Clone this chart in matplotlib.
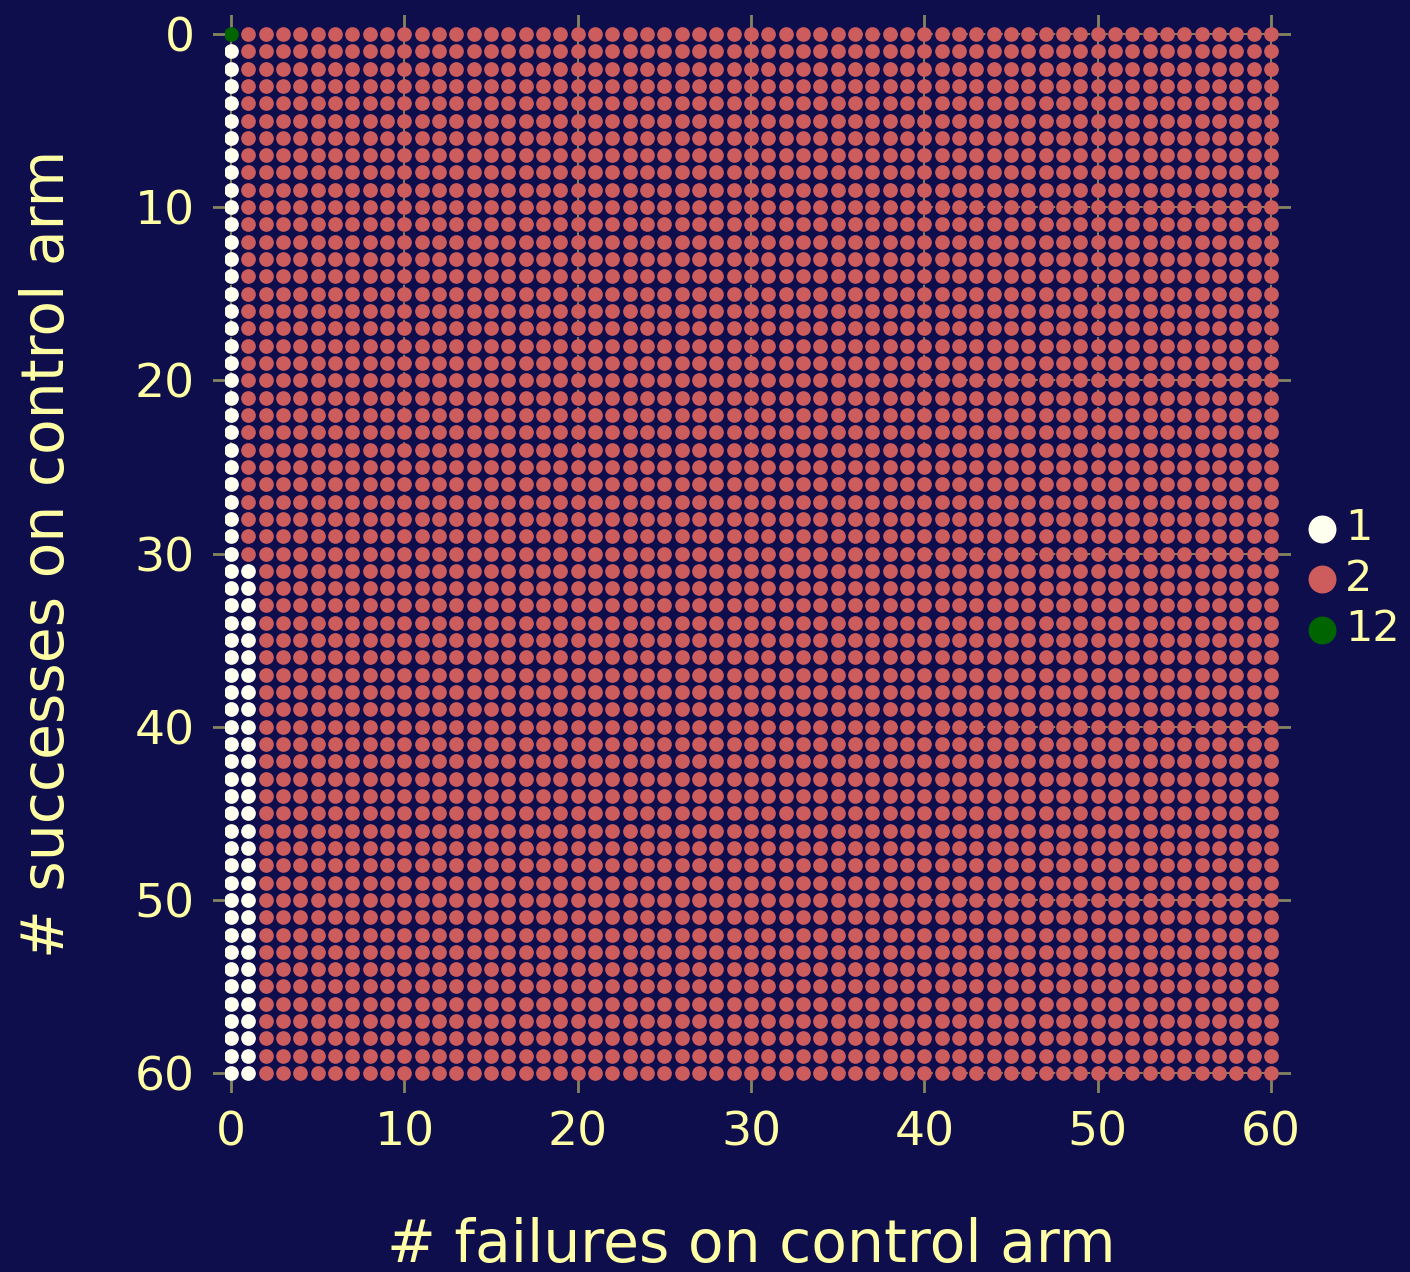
import numpy as np
import matplotlib
matplotlib.use("Agg")
import matplotlib.pyplot as plt
import matplotlib.transforms as mtransforms

# grid of control-arm outcomes and the level assigned to each cell
failures = np.arange(0, 61)
successes = np.arange(0, 61)
levels = [1, 2, 12]
level_colors = {1: "#FFFFF0", 2: "#CD5C5C", 12: "#006400"}
ticks = [0, 10, 20, 30, 40, 50, 60]

# level 1 cells: (failure column, first success row); runs go to the last row
level1_runs = [(0, 1), (1, 31)]
level12_cells = [(0, 0)]

grid = np.full((len(successes), len(failures)), 2)
for col, start in level1_runs:
    grid[start:, col] = 1
for col, row in level12_cells:
    grid[row, col] = 12

bg = "#0F0E4D"
fg = "#FFFFA5"
gridc = "#84845F"

fig = plt.figure(figsize=(14.1, 12.72), dpi=100, facecolor=bg)
ax = fig.add_axes([225 / 1410, 1 - 1080 / 1272, 1053 / 1410, 1053 / 1272])
ax.set_facecolor(bg)

X, Y = np.meshgrid(failures, successes)
for lv in levels:
    mask = grid == lv
    ax.scatter(X[mask], Y[mask], s=112, color=level_colors[lv], linewidths=0,
               label=str(lv), zorder=3)

ax.set_xlim(-0.35, 60.4)
ax.set_ylim(60.4, -0.4)
ax.set_xticks(ticks)
ax.set_yticks(ticks)
for s in ax.spines.values():
    s.set_visible(False)

ax.grid(True, color=gridc, linestyle=(0, (4, 5)), linewidth=1.4, zorder=0)
ax.tick_params(length=0, pad=22, labelsize=34, labelcolor=fg)

# dashed outward tick marks on all four sides
tl = 0.018
tx = mtransforms.blended_transform_factory(ax.transData, ax.transAxes)
ty = mtransforms.blended_transform_factory(ax.transAxes, ax.transData)
for v in ticks:
    kw = dict(color=gridc, linewidth=2, linestyle=(0, (4.5, 4.5)), clip_on=False, zorder=1)
    ax.plot([v, v], [0, -tl], transform=tx, **kw)
    ax.plot([v, v], [1, 1 + tl], transform=tx, **kw)
    ax.plot([0, -tl], [v, v], transform=ty, **kw)
    ax.plot([1, 1 + tl], [v, v], transform=ty, **kw)

ax.set_xlabel("# failures on control arm", fontsize=42, color=fg, labelpad=44)
ax.set_ylabel("# successes on control arm", fontsize=42, color=fg, labelpad=42)

leg = ax.legend(loc="center left", bbox_to_anchor=(1.021, 0.476), frameon=False,
                fontsize=31, markerscale=1.9, handlelength=1.0, handletextpad=0.05,
                labelspacing=0.2, borderaxespad=0, borderpad=0)
for t in leg.get_texts():
    t.set_color(fg)

fig.savefig("out.png", dpi=100, facecolor=bg)
